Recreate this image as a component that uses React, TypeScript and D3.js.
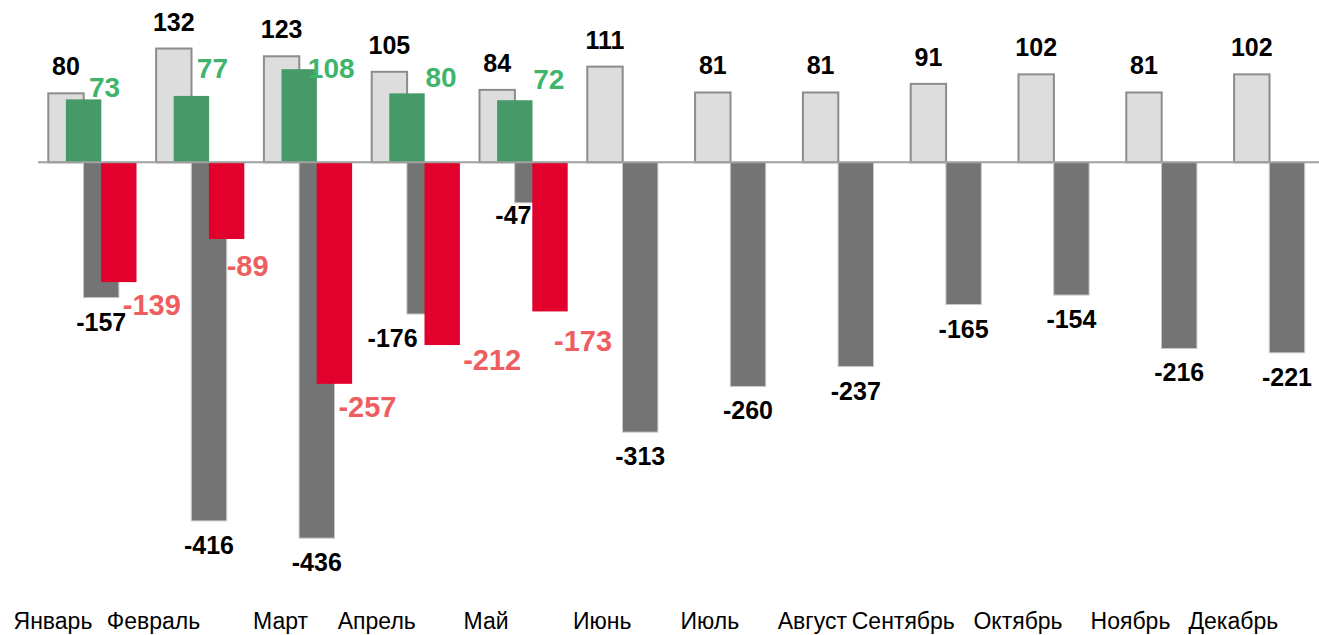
import React from "react";
import * as d3 from "d3";

const months = ["Январь", "Февраль", "Март", "Апрель", "Май", "Июнь", "Июль", "Август", "Сентябрь", "Октябрь", "Ноябрь", "Декабрь"];
const prevIncome = [80, 132, 123, 105, 84, 111, 81, 81, 91, 102, 81, 102];
const curIncome = [73, 77, 108, 80, 72];
const prevLoss = [-157, -416, -436, -176, -47, -313, -260, -237, -165, -154, -216, -221];
const curLoss = [-139, -89, -257, -212, -173];

// hand placed label nudges (dx, dy), like in the source chart
const greenNudge: Record<number, [number, number]> = { 0: [-12, 4], 1: [-12, -12], 2: [-1, 15], 3: [1, 0], 4: [1, -5] };
const redNudge: Record<number, [number, number]> = { 1: [-12, 4], 3: [17, -8], 4: [0, 7] };
const darkNudge: Record<number, [number, number]> = { 3: [-32, 0], 4: [-19, -12] };
const monthNudge: Record<number, number> = { 4: -15 };

const W = 1319;
const H = 635;
const FONT = "'Liberation Sans', Arial, sans-serif";

const App = () => {
  const x = d3.scaleBand<string>()
    .domain(months)
    .range([48.3, 48.3 + 12 * 107.8]);

  const y = d3.scaleLinear()
    .domain([-500, 150])
    .range([162.3 + 500 * 0.862, 162.3 - 150 * 0.862]);

  const barW = 35.4;
  const off = 17.6;
  const y0 = y(0);

  const bx = (i: number, k: number) => (x(months[i]) as number) + k * off;

  return (
    <svg width={W} height={H} style={{ position: "absolute", left: 0, top: 0, background: "#fff" }} fontFamily={FONT}>
      {/* previous year income */}
      {prevIncome.map((v, i) => (
        <rect key={"p" + i} x={bx(i, 0)} y={y(v)} width={barW} height={y0 - y(v)}
          fill="#dddddd" stroke="#8c8c8c" strokeWidth={2} />
      ))}
      {curIncome.map((v, i) => (
        <rect key={"c" + i} x={bx(i, 1)} y={y(v)} width={barW} height={y0 - y(v)} fill="#459a68" />
      ))}
      {prevLoss.map((v, i) => (
        <rect key={"pl" + i} x={bx(i, 2)} y={y0} width={barW} height={y(v) - y0}
          fill="#747474" stroke="#c8c8c8" strokeWidth={1} />
      ))}
      {curLoss.map((v, i) => (
        <rect key={"cl" + i} x={bx(i, 3)} y={y0} width={barW} height={y(v) - y0} fill="#e2002c" />
      ))}

      <line x1={38} x2={W} y1={y0} y2={y0} stroke="#a0a0a0" strokeWidth={2} />

      {prevIncome.map((v, i) => (
        <text key={"tp" + i} x={bx(i, 0) + barW / 2} y={y(v) - 18} textAnchor="middle"
          fontSize={25} fontWeight="bold" fill="#000">{v}</text>
      ))}
      {curIncome.map((v, i) => {
        const [dx, dy] = greenNudge[i] || [0, 0];
        return (
          <text key={"tc" + i} x={bx(i, 1) + barW / 2 + 33 + dx} y={y(v) - 6 + dy} textAnchor="middle"
            fontSize={28} fontWeight="bold" fill="#3fb46b">{v}</text>
        );
      })}
      {prevLoss.map((v, i) => {
        const [dx, dy] = darkNudge[i] || [0, 0];
        return (
          <text key={"tpl" + i} x={bx(i, 2) + barW / 2 + dx} y={y(v) + 33 + dy} textAnchor="middle"
            fontSize={25} fontWeight="bold" fill="#000">{v}</text>
        );
      })}
      {curLoss.map((v, i) => {
        const [dx, dy] = redNudge[i] || [0, 0];
        return (
          <text key={"tcl" + i} x={bx(i, 3) + barW / 2 + 33 + dx} y={y(v) + 33 + dy} textAnchor="middle"
            fontSize={29} fontWeight="bold" fill="#ee5e60">{v}</text>
        );
      })}

      {months.map((m, i) => (
        <text key={m} x={bx(i, 0) + (3 * off + barW) / 2 + (monthNudge[i] || 0)} y={629}
          textAnchor="end" fontSize={23} fill="#000">{m}</text>
      ))}
    </svg>
  );
};

export default App;
